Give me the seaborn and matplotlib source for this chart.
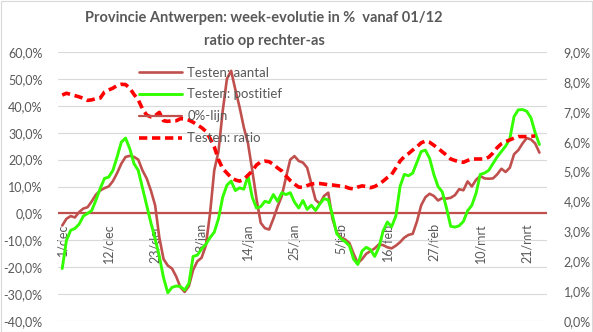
import matplotlib
matplotlib.use("Agg")
import matplotlib.pyplot as plt
import seaborn as sns
import pandas as pd
from matplotlib.ticker import FuncFormatter, MultipleLocator
from matplotlib.patches import Rectangle
from matplotlib.lines import Line2D

# ---------------- data (day 0 = 1 december) ----------------
aantal = [-4.5, -2, -1, -1.5, 0.5, 1.8, 2.3, 4.5, 7, 8.5,
          9.4, 10, 12, 15, 18.5, 21, 21.4, 21, 20, 16,
          13, 8.5, 3, -9, -17, -19.4, -20.5, -23.5, -27.5, -29.2,
          -27, -21, -17.8, -16.5, -12, -0.1, 16, 23, 38, 50,
          53, 46, 39.5, 32, 26, 16, 5.5, -3.5, -5.5, -6,
          -2, 2.5, 6.5, 13.5, 20, 21.3, 19.5, 18.9, 17, 11,
          5, 3.6, 6.5, 7.7, -2, -7, -9, -9.7, -11, -15,
          -18.5, -17, -15, -14, -13, -11.5, -11.8, -12.6, -13, -12,
          -10.7, -9, -8, -7.6, -3, 3, 6, 7.3, 6.5, 4.8,
          5.7, 5.5, 5.8, 6.8, 9, 8.6, 11.9, 10, 12.5, 13.9,
          13, 12.9, 13, 14.5, 16.6, 15.4, 17, 22, 23.5, 26,
          28, 27.5, 26, 22.6]

positief = [-20.5, -10, -6.3, -5.6, -4, -1, 0, 1.1, 5, 9.3,
            13, 13.5, 16, 21, 26.5, 28, 24, 18.5, 16, 9.5,
            3, -3.5, -9.5, -16, -24, -29.5, -27.5, -27, -27.2, -28.5,
            -26, -16, -15.5, -13.2, -11.5, -9, -7, -2, 6, 10.5,
            12, 8.5, 9.5, 9, 14, 6, 2, 2.5, 4.5, 4,
            7, 4.5, 7.7, 7, 7.7, 4.2, 2, 4.8, 1.5, 3,
            1.1, 3.5, 5.5, 5, -0.7, -7.5, -9.4, -10.5, -12, -17,
            -19, -14, -12.6, -13.5, -16, -12.6, -6.5, -3.2, -5, -1,
            10, 14.5, 14, 15, 19, 23, 23.5, 20.5, 14.5, 10,
            8, 2, -4.8, -5.1, -4.6, -3, 1, 3, 7.5, 14.5,
            15, 16, 18.5, 21, 23, 25, 27.8, 36, 38.5, 38.6,
            38, 35.5, 30, 25.6]

ratio = [7.56, 7.62, 7.58, 7.54, 7.50, 7.45, 7.38, 7.40, 7.44, 7.46,
         7.66, 7.73, 7.79, 7.88, 7.92, 7.91, 7.79, 7.58, 7.40, 7.10,
         6.89, 6.83, 6.87, 6.98, 6.70, 6.68, 6.70, 6.70, 6.77, 6.76,
         6.72, 6.65, 6.56, 6.47, 6.35, 6.11, 5.83, 5.40, 5.10, 4.95,
         4.80, 4.72, 4.68, 4.74, 4.88, 5.02, 5.22, 5.32, 5.35, 5.33,
         5.24, 5.12, 5.02, 4.85, 4.70, 4.58, 4.48, 4.47, 4.53, 4.58,
         4.60, 4.60, 4.58, 4.56, 4.55, 4.53, 4.51, 4.49, 4.44, 4.42,
         4.48, 4.52, 4.50, 4.46, 4.50, 4.58, 4.68, 4.80, 4.90, 5.12,
         5.35, 5.50, 5.60, 5.72, 5.83, 5.96, 6.02, 5.98, 5.88, 5.78,
         5.66, 5.55, 5.42, 5.37, 5.33, 5.31, 5.37, 5.42, 5.42, 5.42,
         5.42, 5.48, 5.62, 5.80, 5.93, 6.00, 6.06, 6.12, 6.17, 6.17,
         6.17, 6.18, 6.19]

zero_level = 0.0
tick_labels = ["1/dec", "12/dec", "23/dec", "3/jan", "14/jan", "25/jan",
               "5/feb", "16/feb", "27/feb", "10/mrt", "21/mrt"]
tick_days = [0, 11, 22, 33, 44, 55, 66, 77, 88, 99, 110]

df = pd.DataFrame({"dag": list(range(len(aantal))),
                   "aantal": aantal, "positief": positief})
df_ratio = pd.DataFrame({"dag": list(range(len(ratio))), "ratio": ratio})

# ---------------- style ----------------
sns.set_theme(style="white")
plt.rcParams["font.family"] = ["Lato", "DejaVu Sans"]
GREY = "#595959"
BROWN = "#C0504D"
GREEN = "#33FF00"
RED = "#FF0000"

W, H = 593, 332
fig = plt.figure(figsize=(W / 100, H / 100), dpi=100)
fig.patch.set_facecolor("white")
fig.patches.append(Rectangle((0.5 / W, 0.5 / H), 1 - 1.5 / W, 1 - 1.5 / H,
                             transform=fig.transFigure, fill=False,
                             edgecolor="#D9D9D9", lw=0.8))

L, R, T, B = 58, 547, 52, 321
ax = fig.add_axes([L / W, 1 - B / H, (R - L) / W, (B - T) / H])
ax2 = ax.twinx()

sns.lineplot(data=df, x="dag", y="aantal", ax=ax, color=BROWN, lw=1.9,
             legend=False)
sns.lineplot(data=df, x="dag", y="positief", ax=ax, color=GREEN, lw=2.1,
             legend=False)
ax.axhline(zero_level, color=BROWN, lw=1.6, zorder=1.5)
sns.lineplot(data=df_ratio, x="dag", y="ratio", ax=ax2, color=RED, lw=2.6,
             legend=False, dashes=False)
for ln in ax2.get_lines():
    ln.set_dashes((2.3, 1.3))
    ln.set_dash_capstyle("butt")

ax.set_xlim(-1.0, 114.8)
ax.set_ylim(-40, 60)
ax2.set_ylim(0, 9)

# x axis crosses at 0 (position first, then ticks/labels)
ax.spines["bottom"].set_position(("data", 0))

ax.yaxis.set_major_locator(MultipleLocator(10))
ax2.yaxis.set_major_locator(MultipleLocator(1))
fmt = FuncFormatter(lambda v, p: f"{v:.1f}%".replace(".", ","))
ax.yaxis.set_major_formatter(fmt)
ax2.yaxis.set_major_formatter(fmt)

ax.set_xticks(tick_days)
ax.set_xticklabels(tick_labels)

for a in (ax, ax2):
    for s in a.spines.values():
        s.set_color("none")
    a.set_xlabel("")
    a.set_ylabel("")
    a.tick_params(length=0, colors=GREY, labelsize=9)

ax.tick_params(axis="x", labelrotation=90, pad=7)
for lbl in ax.get_xticklabels():
    lbl.set_va("top")
    lbl.set_ha("center")
ax.tick_params(axis="y", pad=11)
ax2.tick_params(axis="y", pad=12)

ax.grid(axis="y", color="#D9D9D9", lw=0.8)
ax.grid(axis="x", visible=False)
ax2.grid(False)
ax.set_axisbelow(True)

# legend
handles = [Line2D([], [], color=BROWN, lw=1.9),
           Line2D([], [], color=GREEN, lw=2.1),
           Line2D([], [], color=BROWN, lw=1.6),
           Line2D([], [], color=RED, lw=2.6, dashes=(2.3, 1.3))]
labels = ["Testen: aantal", "Testen: postitief", "0%-lijn", "Testen: ratio"]
leg = ax2.legend(handles, labels, loc="upper left",
                 bbox_to_anchor=(132 / W, 1 - 60 / H),
                 bbox_transform=fig.transFigure, frameon=False,
                 fontsize=9.5, handlelength=3.3, handletextpad=0.4,
                 labelspacing=0.75, borderpad=0)
for t in leg.get_texts():
    t.set_color(GREY)

fig.text(264 / W, 1 - 18 / H, "Provincie Antwerpen: week-evolutie in %  vanaf 01/12",
         ha="center", va="center", fontsize=10.5, fontweight="bold", color=GREY)
fig.text(264 / W, 1 - 41 / H, "ratio op rechter-as",
         ha="center", va="center", fontsize=10.5, fontweight="bold", color=GREY)

fig.savefig("out.png", dpi=100)
